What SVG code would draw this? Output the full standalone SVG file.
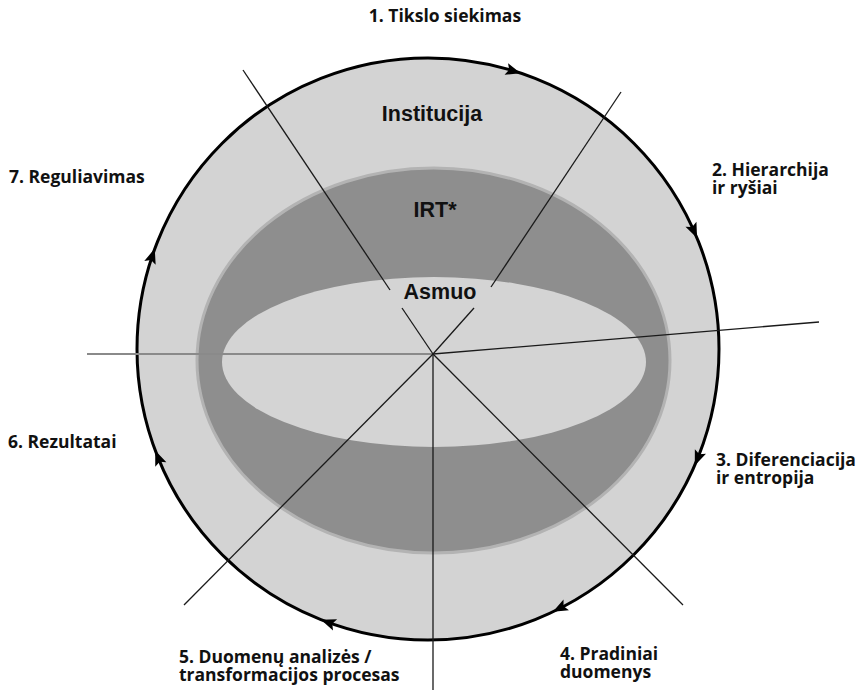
<svg xmlns="http://www.w3.org/2000/svg" width="866" height="694" viewBox="0 0 866 694">
<style>
.lbl{font-family:"Open Sans","Liberation Sans",sans-serif;font-weight:700;font-size:17.5px;fill:#111}
.in{font-family:"Liberation Sans",Arial,sans-serif;font-weight:700;font-size:21.5px;fill:#111}
.ln{stroke:#1a1a1a;stroke-width:1.3;fill:none}
.lg{stroke:#8a8a8a;stroke-width:2;fill:none}
.ah{fill:#000}
</style>
<defs>
<polygon id="arr" points="8,0 -7,-6 -4,0 -7,6"/>
</defs>
<rect width="866" height="694" fill="#fff"/>
<g id="institucija">
<circle cx="428" cy="349" r="291" fill="#d3d3d3" stroke="#000" stroke-width="3"/>
<text class="in" x="432" y="121" text-anchor="middle">Institucija</text>
</g>
<g id="irt">
<ellipse cx="433.5" cy="360.5" rx="236.5" ry="192.5" fill="#8e8e8e" stroke="#b3b3b3" stroke-width="3"/>
<text class="in" x="435" y="217" text-anchor="middle">IRT*</text>
</g>
<g id="asmuo">
<ellipse cx="434" cy="362" rx="212" ry="85" fill="#d4d4d4"/>
<text class="in" x="440" y="299" text-anchor="middle" font-size="22">Asmuo</text>
</g>
<g id="connectors">
<line class="lg" x1="87" y1="354" x2="433" y2="354"/>
<line class="ln" x1="243" y1="70" x2="390" y2="290"/>
<line class="ln" x1="402" y1="308" x2="433" y2="354"/>
<line class="ln" x1="621" y1="92" x2="491" y2="287"/>
<line class="ln" x1="474" y1="308" x2="433" y2="354"/>
<line class="ln" x1="433" y1="354" x2="819" y2="322"/>
<line class="ln" x1="433" y1="354" x2="433" y2="690"/>
<line class="ln" x1="433" y1="354" x2="184" y2="605"/>
<line class="ln" x1="433" y1="354" x2="683" y2="605"/>
<use href="#arr" class="ah" transform="translate(513,71) rotate(17)"/>
<use href="#arr" class="ah" transform="translate(693.8,230.6) rotate(66)"/>
<use href="#arr" class="ah" transform="translate(697.8,458) rotate(112)"/>
<use href="#arr" class="ah" transform="translate(560,608) rotate(153)"/>
<use href="#arr" class="ah" transform="translate(328.5,622.5) rotate(200)"/>
<use href="#arr" class="ah" transform="translate(158.2,458) rotate(248)"/>
<use href="#arr" class="ah" transform="translate(152.2,256.2) rotate(288.6)"/>
</g>
<g id="labels">
<text class="lbl" x="445" y="22" text-anchor="middle">1. Tikslo siekimas</text>
<text class="lbl" x="712" y="176">2. Hierarchija</text>
<text class="lbl" x="712" y="194">ir ryšiai</text>
<text class="lbl" x="716" y="466">3. Diferenciacija</text>
<text class="lbl" x="716" y="484">ir entropija</text>
<text class="lbl" x="560" y="660">4. Pradiniai</text>
<text class="lbl" x="560" y="678">duomenys</text>
<text class="lbl" x="179" y="663">5. Duomenų analizės /</text>
<text class="lbl" x="179" y="681">transformacijos procesas</text>
<text class="lbl" x="8" y="448">6. Rezultatai</text>
<text class="lbl" x="9" y="183">7. Reguliavimas</text>
</g>
</svg>
